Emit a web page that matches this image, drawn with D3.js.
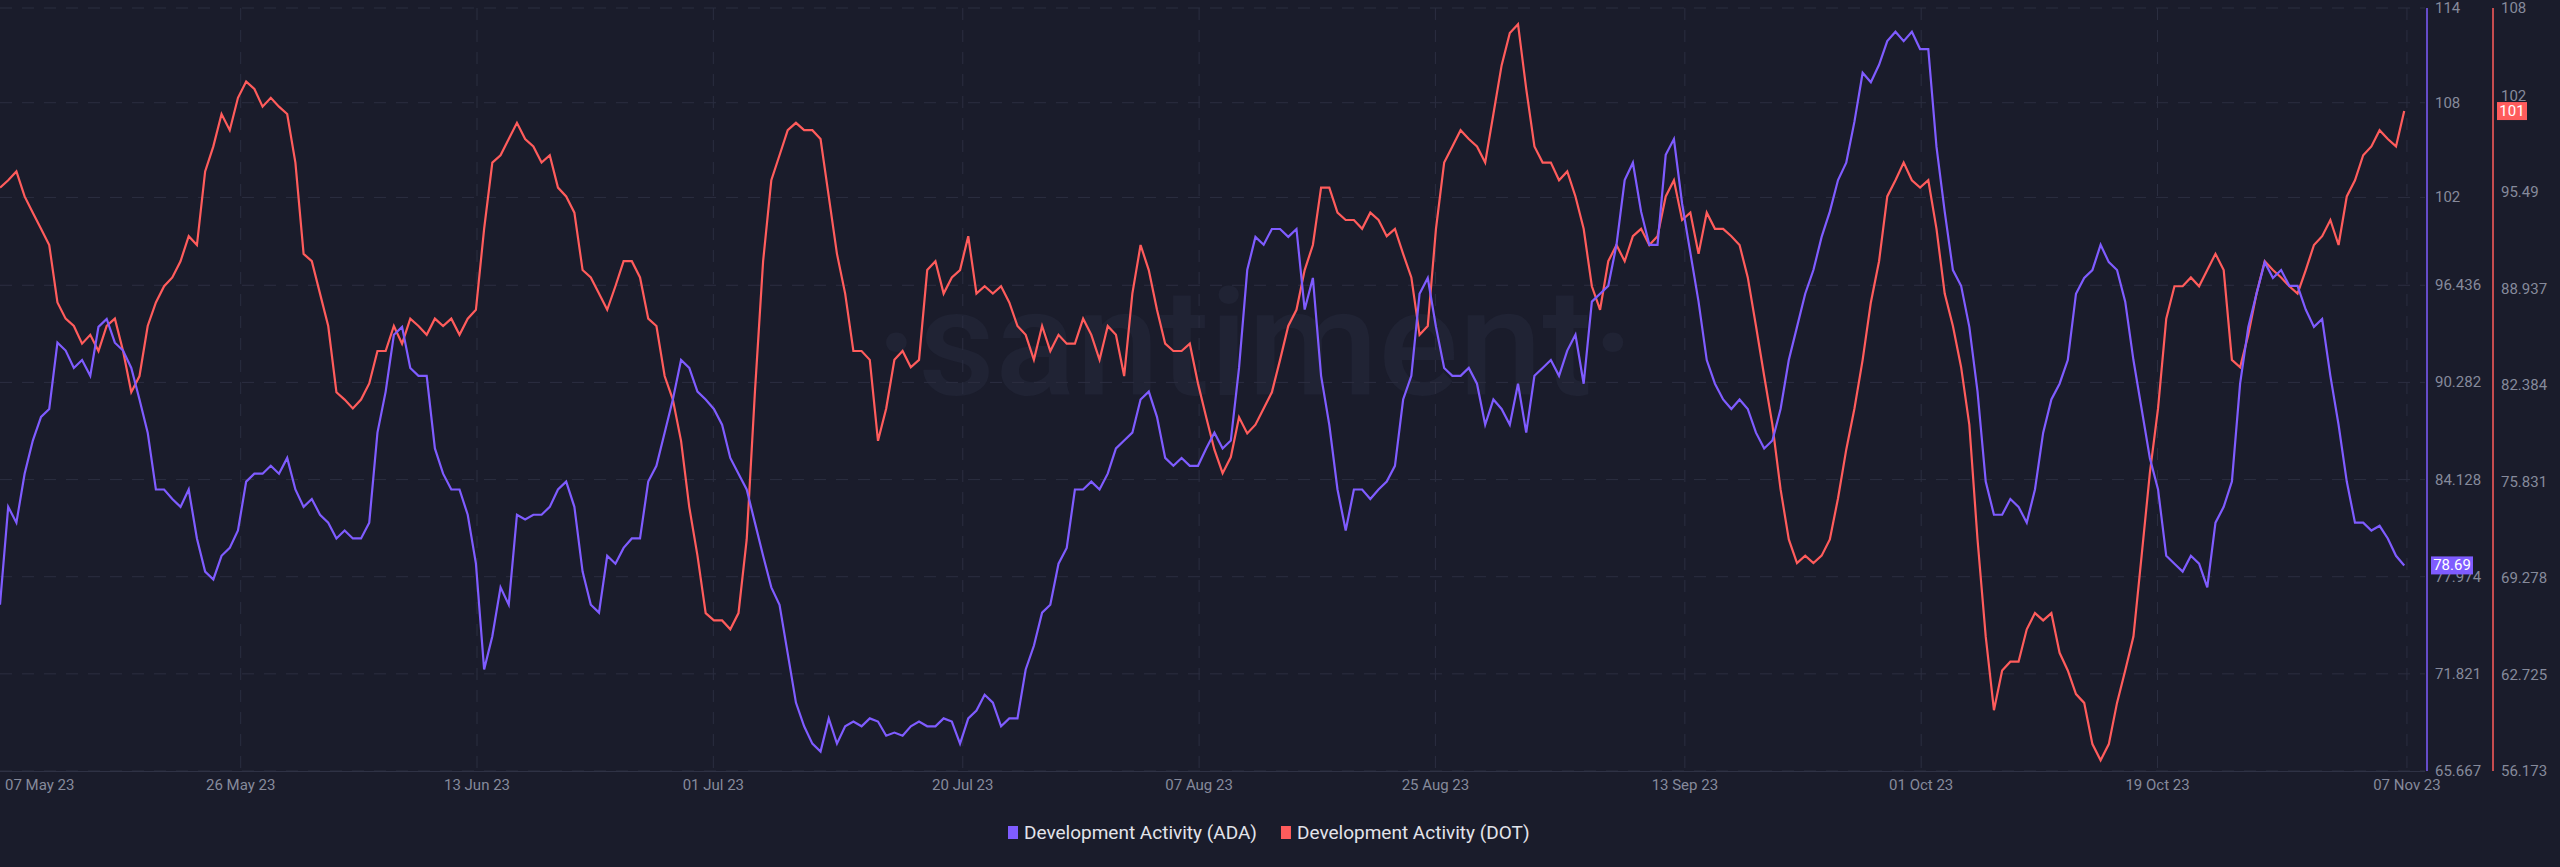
<!DOCTYPE html>
<html>
<head>
<meta charset="utf-8">
<script src="https://cdn.jsdelivr.net/npm/d3@7"></script>
<style>
  html, body { margin: 0; padding: 0; background: #1a1c2b; }
  svg { display: block; font-family: Roboto, "Noto Sans", sans-serif; }
</style>
</head>
<body>
<svg id="chart" width="2560" height="867"></svg>
<script>
// sampled every 15 hours from 07 May 23 16:00
const startDate = new Date(2023, 4, 7, 16);
const stepHours = 15;

const adaValues = [76.2,82.4,81.4,84.5,86.6,88.1,88.6,92.8,92.3,91.2,91.7,90.7,93.8,94.3,92.8,92.3,91.2,89.2,87.1,83.5,83.5,82.9,82.4,83.5,80.4,78.3,77.8,79.3,79.8,80.9,84.0,84.5,84.5,85.0,84.5,85.5,83.5,82.4,82.9,81.9,81.4,80.4,80.9,80.4,80.4,81.4,87.1,89.7,93.3,93.8,91.2,90.7,90.7,86.1,84.5,83.5,83.5,81.9,78.8,72.1,74.2,77.3,76.2,81.9,81.6,81.9,81.9,82.4,83.5,84.0,82.4,78.3,76.2,75.7,79.3,78.8,79.8,80.4,80.4,84.0,85.0,87.1,89.2,91.7,91.2,89.7,89.2,88.6,87.6,85.5,84.5,83.5,81.4,79.3,77.3,76.2,73.1,70.0,68.5,67.4,66.9,69.0,67.4,68.5,68.8,68.5,69.0,68.8,67.9,68.1,67.9,68.5,68.8,68.5,68.5,69.0,68.8,67.4,69.0,69.5,70.5,70.0,68.5,69.0,69.0,72.1,73.6,75.7,76.2,78.8,79.8,83.5,83.5,84.0,83.5,84.5,86.1,86.6,87.1,89.2,89.7,88.1,85.5,85.0,85.5,85.0,85.0,86.1,87.1,86.1,86.6,91.2,97.4,99.5,99.0,100.0,100.0,99.5,100.0,94.9,96.9,90.7,87.6,83.5,80.9,83.5,83.5,82.9,83.5,84.0,85.0,89.2,90.7,95.9,96.9,93.8,91.2,90.7,90.7,91.2,90.2,87.6,89.2,88.6,87.6,90.2,87.1,90.7,91.2,91.7,90.7,92.3,93.3,90.2,95.4,95.9,96.4,99.0,103.1,104.2,101.1,99.0,99.0,104.7,105.7,101.6,98.5,95.4,91.7,90.2,89.2,88.6,89.2,88.6,87.1,86.1,86.6,88.6,91.7,93.8,95.9,97.4,99.5,101.1,103.1,104.2,106.8,109.9,109.3,110.4,111.9,112.5,111.9,112.5,111.4,111.4,105.2,101.1,97.4,96.4,93.8,89.7,84.0,81.9,81.9,82.9,82.4,81.4,83.5,87.1,89.2,90.2,91.7,95.9,96.9,97.4,99.0,97.9,97.4,95.4,91.7,88.6,85.5,83.5,79.3,78.8,78.3,79.3,78.8,77.3,81.4,82.4,84.0,90.2,93.8,95.9,97.9,96.9,97.4,96.4,96.4,94.9,93.8,94.3,90.7,87.6,84.0,81.4,81.4,80.9,81.2,80.4,79.3,78.69];

const dotValues = [95.8,96.3,96.9,95.2,94.1,93.0,91.9,88.0,86.9,86.4,85.2,85.8,84.7,86.4,86.9,84.7,81.9,83.0,86.4,88.0,89.1,89.7,90.8,92.5,91.9,96.9,98.6,100.8,99.7,101.9,103.0,102.5,101.3,101.9,101.3,100.8,97.5,91.3,90.8,88.6,86.4,81.9,81.4,80.8,81.4,82.5,84.7,84.7,86.4,85.2,86.9,86.4,85.8,86.9,86.4,86.9,85.8,86.9,87.5,93.0,97.5,98.0,99.1,100.2,99.1,98.6,97.5,98.0,95.8,95.2,94.1,90.2,89.7,88.6,87.5,89.1,90.8,90.8,89.7,86.9,86.4,83.0,81.4,78.6,74.1,70.8,66.9,66.4,66.4,65.8,66.9,71.9,81.9,90.8,96.3,98.0,99.7,100.2,99.7,99.7,99.1,95.2,91.3,88.6,84.7,84.7,84.1,78.6,80.8,84.1,84.7,83.6,84.1,90.2,90.8,88.6,89.7,90.2,92.5,88.6,89.1,88.6,89.1,88.0,86.4,85.8,84.1,86.4,84.7,85.8,85.2,85.2,86.9,85.8,84.1,86.4,85.8,83.0,88.6,91.9,90.2,87.5,85.2,84.7,84.7,85.2,82.5,80.2,78.0,76.4,77.5,80.2,79.1,79.7,80.8,81.9,84.1,86.4,87.5,90.2,91.9,95.8,95.8,94.1,93.6,93.6,93.0,94.1,93.6,92.5,93.0,91.3,89.7,85.8,86.4,93.0,97.5,98.6,99.7,99.1,98.6,97.5,100.8,104.1,106.3,106.9,102.5,98.6,97.5,97.5,96.3,96.9,95.2,93.0,89.1,87.5,90.8,91.9,90.8,92.5,93.0,91.9,92.5,95.2,96.3,93.6,94.1,91.3,94.1,93.0,93.0,92.5,91.9,89.7,86.4,83.0,79.7,75.3,71.9,70.3,70.8,70.3,70.8,71.9,74.7,78.0,80.8,84.1,88.0,90.8,95.2,96.3,97.5,96.3,95.8,96.3,93.0,88.6,86.4,83.6,79.7,71.9,65.3,60.3,63.0,63.6,63.6,65.8,66.9,66.4,66.9,64.2,63.0,61.4,60.8,58.0,56.9,58.0,60.8,63.0,65.3,70.8,76.4,80.8,86.9,89.1,89.1,89.7,89.1,90.2,91.3,90.2,84.1,83.6,85.8,88.6,90.8,90.2,89.7,89.1,88.6,90.2,91.9,92.5,93.6,91.9,95.2,96.3,98.0,98.6,99.7,99.1,98.6,101.0];

const adaTicks = [65.667, 71.821, 77.974, 84.128, 90.282, 96.436, 102, 108, 114];
const dotTicks = [56.173, 62.725, 69.278, 75.831, 82.384, 88.937, 95.49, 102, 108];
const dateTicks = ["2023-05-07", "2023-05-26", "2023-06-13", "2023-07-01", "2023-07-20",
  "2023-08-07", "2023-08-25", "2023-09-13", "2023-10-01", "2023-10-19", "2023-11-07"];

const purple = "#7f5cff";
const red = "#ff5c5c";
const grid = "#2b2e40";
const label = "#868a9b";

const plotL = 0, plotR = 2425, plotT = 8, plotB = 771;
const svg = d3.select("#chart");

const x = d3.scaleTime()
  .domain([startDate, new Date(2023, 10, 8, 9)])
  .range([plotL, plotR]);
const yAda = d3.scaleLinear().domain([65.667, 114]).range([plotB, plotT]);
const yDot = d3.scaleLinear().domain([56.173, 108]).range([plotB, plotT]);

const parse = d3.timeParse("%Y-%m-%d");
const fmt = d3.timeFormat("%d %b %y");
const dateAt = (i) => d3.timeHour.offset(startDate, i * stepHours);

// watermark
svg.append("text")
  .attr("x", 1255).attr("y", 395)
  .attr("text-anchor", "middle")
  .attr("fill", "#202334")
  .style("font-size", "150px")
  .style("font-weight", 500)
  .text("·santiment·");

// grid
svg.append("g").selectAll("line").data(adaTicks).join("line")
  .attr("x1", plotL).attr("x2", plotR)
  .attr("y1", (d) => yAda(d)).attr("y2", (d) => yAda(d))
  .attr("stroke", grid).attr("stroke-dasharray", "12,10");
svg.append("g").selectAll("line").data(dateTicks).join("line")
  .attr("x1", (d) => x(parse(d))).attr("x2", (d) => x(parse(d)))
  .attr("y1", plotT).attr("y2", plotB)
  .attr("stroke", grid).attr("stroke-dasharray", "12,10");
svg.append("line")
  .attr("x1", plotL).attr("x2", plotR).attr("y1", plotB + 0.5).attr("y2", plotB + 0.5)
  .attr("stroke", "#2f3245");

// date labels (first one pinned to the left edge)
svg.append("g").selectAll("text").data(dateTicks).join("text")
  .attr("x", (d, i) => (i === 0 ? 5 : x(parse(d))))
  .attr("y", 790)
  .attr("text-anchor", (d, i) => (i === 0 ? "start" : "middle"))
  .attr("fill", label)
  .style("font-size", "15px")
  .text((d) => fmt(parse(d)));

// lines
const lineAda = d3.line().x((d, i) => x(dateAt(i))).y((d) => yAda(d));
const lineDot = d3.line().x((d, i) => x(dateAt(i))).y((d) => yDot(d));
svg.append("path").datum(dotValues)
  .attr("d", lineDot).attr("fill", "none").attr("stroke", red).attr("stroke-width", 2.2);
svg.append("path").datum(adaValues)
  .attr("d", lineAda).attr("fill", "none").attr("stroke", purple).attr("stroke-width", 2.2);

// right axes
const axAda = 2427, axDot = 2493;
svg.append("line").attr("x1", axAda).attr("x2", axAda).attr("y1", plotT).attr("y2", plotB)
  .attr("stroke", purple).attr("stroke-width", 1.5);
svg.append("line").attr("x1", axDot).attr("x2", axDot).attr("y1", plotT).attr("y2", plotB)
  .attr("stroke", red).attr("stroke-width", 1.5);

svg.append("g").selectAll("text").data(adaTicks).join("text")
  .attr("x", axAda + 8).attr("y", (d) => yAda(d) + 5)
  .attr("fill", label).style("font-size", "15px")
  .text((d) => d);
svg.append("g").selectAll("text").data(dotTicks).join("text")
  .attr("x", axDot + 8).attr("y", (d) => yDot(d) + 5)
  .attr("fill", label).style("font-size", "15px")
  .text((d) => d);

// last value badges
function badge(xPos, yPos, w, color, txt) {
  svg.append("rect").attr("x", xPos).attr("y", yPos - 9).attr("width", w).attr("height", 18)
    .attr("fill", color);
  svg.append("text").attr("x", xPos + w / 2).attr("y", yPos + 5)
    .attr("text-anchor", "middle").attr("fill", "#fff")
    .style("font-size", "15px").text(txt);
}
badge(axAda + 4, yAda(adaValues[adaValues.length - 1]), 42, purple, "78.69");
badge(axDot + 4, yDot(dotValues[dotValues.length - 1]), 30, red, "101");

// legend
const legend = [["Development Activity (ADA)", purple], ["Development Activity (DOT)", red]];
const lg = svg.append("g").attr("transform", "translate(1008,833)");
let lx = 0;
legend.forEach(([name, color]) => {
  lg.append("rect").attr("x", lx).attr("y", -7).attr("width", 10).attr("height", 13).attr("fill", color);
  const t = lg.append("text").attr("x", lx + 16).attr("y", 6)
    .attr("fill", "#e2e3ea").style("font-size", "19px").text(name);
  lx += 16 + t.node().getComputedTextLength() + 24;
});
</script>
</body>
</html>
